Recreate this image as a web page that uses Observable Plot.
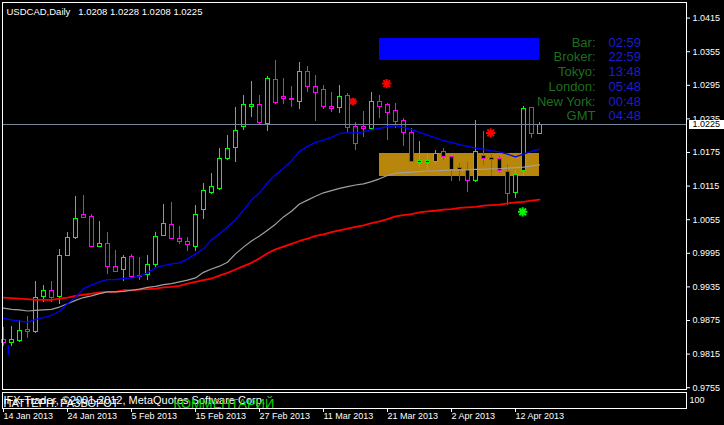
<!DOCTYPE html>
<html><head><meta charset="utf-8">
<script src="https://cdn.jsdelivr.net/npm/d3@7"></script>
<script src="https://cdn.jsdelivr.net/npm/@observablehq/plot@0.6"></script>
<style>
html,body{margin:0;padding:0;background:#000;}
#chart{width:724px;height:425px;background:#000;overflow:hidden;position:relative}
#chart svg{display:block;max-width:none}
#chart svg.sub{margin-top:-3px;position:relative}
</style></head><body><div id="chart"></div>
<script>
// ---------- data ----------
const symbol = "USDCAD,Daily";
const dateLabels = ["14 Jan 2013","24 Jan 2013","5 Feb 2013","15 Feb 2013","27 Feb 2013","11 Mar 2013","21 Mar 2013","2 Apr 2013","12 Apr 2013"];
const dateTickBars = [0,8,16,24,32,40,48,56,64];
const priceTicks = [1.0415,1.0355,1.0295,1.0235,1.0175,1.0115,1.0055,0.9995,0.9935,0.9875,0.9815,0.9755];

const open  = [0.9841,0.9835,0.9838,0.9858,0.9855,0.9917,0.9928,0.9917,0.9990,1.0023,
               1.0063,1.0060,1.0007,1.0011,0.9970,0.9965,0.9988,0.9955,0.9956,0.9975,
               1.0026,1.0045,1.0021,1.0015,1.0007,1.0072,1.0103,1.0110,1.0164,1.0183,
               1.0221,1.0257,1.0260,1.0226,1.0304,1.0274,1.0271,1.0266,1.0319,1.0292,
               1.0286,1.0256,1.0255,1.0276,1.0220,1.0220,1.0217,1.0265,1.0259,1.0249,
               1.0231,1.0209,1.0157,1.0157,1.0158,1.0176,1.0167,1.0148,1.0144,1.0125,
               1.0169,1.0166,1.0163,1.0140,1.0103,1.0142,1.0254,1.0208];
const high  = [0.9863,0.9865,0.9875,0.9883,0.9945,0.9938,0.9945,1.0002,1.0033,1.0097,
               1.0099,1.0064,1.0051,1.0033,1.0000,0.9991,0.9993,0.9988,0.9991,1.0033,
               1.0083,1.0085,1.0042,1.0023,1.0081,1.0119,1.0137,1.0183,1.0206,1.0255,
               1.0276,1.0301,1.0276,1.0311,1.0340,1.0308,1.0292,1.0335,1.0328,1.0313,
               1.0294,1.0283,1.0294,1.0281,1.0229,1.0249,1.0283,1.0276,1.0262,1.0262,
               1.0235,1.0218,1.0194,1.0172,1.0179,1.0182,1.0167,1.0155,1.0157,1.0233,
               1.0213,1.0172,1.0167,1.0154,1.0142,1.0258,1.0256,1.0228];
const low   = [0.9829,0.9829,0.9835,0.9842,0.9851,0.9907,0.9907,0.9904,0.9989,1.0019,
               1.0058,1.0005,1.0007,0.9957,0.9962,0.9945,0.9950,0.9947,0.9947,0.9969,
               1.0026,1.0020,1.0010,0.9998,0.9999,1.0056,1.0100,1.0107,1.0161,1.0157,
               1.0215,1.0238,1.0224,1.0213,1.0260,1.0260,1.0255,1.0251,1.0282,1.0231,
               1.0252,1.0246,1.0244,1.0210,1.0179,1.0201,1.0215,1.0235,1.0197,1.0217,
               1.0185,1.0158,1.0148,1.0142,1.0154,1.0160,1.0123,1.0123,1.0103,1.0121,
               1.0152,1.0132,1.0138,1.0081,1.0092,1.0132,1.0200,1.0208];
const close = [0.9835,0.9840,0.9857,0.9855,0.9915,0.9928,0.9916,0.9990,1.0022,1.0057,
               1.0058,1.0007,1.0012,0.9971,0.9962,0.9986,0.9953,0.9952,0.9975,1.0024,
               1.0047,1.0021,1.0016,1.0009,1.0063,1.0106,1.0113,1.0163,1.0182,1.0213,
               1.0260,1.0260,1.0228,1.0306,1.0264,1.0271,1.0268,1.0319,1.0292,1.0282,
               1.0257,1.0253,1.0274,1.0218,1.0191,1.0217,1.0265,1.0257,1.0246,1.0230,
               1.0210,1.0158,1.0159,1.0159,1.0173,1.0167,1.0144,1.0144,1.0125,1.0176,
               1.0164,1.0161,1.0142,1.0101,1.0134,1.0252,1.0208,1.0225];

// moving averages (one value per bar)
const maFast = [0.9879,0.9876,0.9874,0.9872,0.9877,0.9880,0.9884,0.9892,0.9905,0.9917,
                0.9932,0.9938,0.9944,0.9948,0.9948,0.9950,0.9951,0.9954,0.9960,0.9969,
                0.9973,0.9976,0.9978,0.9985,0.9994,1.0003,1.0019,1.0030,1.0042,1.0055,
                1.0072,1.0090,1.0103,1.0121,1.0135,1.0147,1.0160,1.0177,1.0186,1.0193,
                1.0197,1.0202,1.0209,1.0210,1.0210,1.0212,1.0216,1.0218,1.0221,1.0223,
                1.0220,1.0216,1.0211,1.0206,1.0201,1.0196,1.0193,1.0189,1.0186,1.0183,
                1.0181,1.0178,1.0176,1.0172,1.0167,1.0172,1.0177,1.0181];
const maMid  = [0.9897,0.9895,0.9894,0.9892,0.9893,0.9894,0.9895,0.9899,0.9905,0.9911,
                0.9916,0.9919,0.9923,0.9926,0.9926,0.9927,0.9929,0.9931,0.9934,0.9936,
                0.9939,0.9941,0.9944,0.9947,0.9951,0.9961,0.9967,0.9972,0.9979,0.9994,
                1.0006,1.0017,1.0026,1.0036,1.0047,1.0060,1.0070,1.0083,1.0090,1.0097,
                1.0103,1.0107,1.0111,1.0114,1.0117,1.0119,1.0123,1.0128,1.0134,1.0138,
                1.0139,1.0140,1.0141,1.0142,1.0142,1.0143,1.0144,1.0144,1.0144,1.0145,
                1.0145,1.0146,1.0146,1.0147,1.0148,1.0149,1.0151,1.0153];
const maSlow = [0.9916,0.9915,0.9914,0.9913,0.9912,0.9912,0.9912,0.9914,0.9916,0.9919,
                0.9921,0.9923,0.9925,0.9926,0.9926,0.9929,0.9929,0.9930,0.9931,0.9932,
                0.9934,0.9935,0.9937,0.9941,0.9944,0.9947,0.9950,0.9955,0.9960,0.9966,
                0.9972,0.9978,0.9986,0.9995,1.0002,1.0007,1.0012,1.0017,1.0021,1.0026,
                1.0029,1.0033,1.0036,1.0039,1.0042,1.0045,1.0049,1.0052,1.0056,1.0061,
                1.0063,1.0065,1.0068,1.0070,1.0071,1.0073,1.0074,1.0076,1.0077,1.0078,
                1.0080,1.0081,1.0082,1.0084,1.0086,1.0087,1.0089,1.0091];

// chart objects (bar index / price)
const zoneKinds = ["gold","blue"];
const zoneFrom  = [46.94, 46.94];
const zoneTo    = [67, 67];
const zoneLo    = [1.0133, 1.0340];
const zoneHi    = [1.0174, 1.0379];

const signalBar   = [43.7, 47.9, 60.9, 64.9];
const signalPrice = [1.0266, 1.0298, 1.0210, 1.0069];
const signalKind  = ["sellSmall","sell","sell","buy"];

const markBar = [0.6], markTop = [0.9830], markBottom = [0.9813];

const clockLabels = ["Bar:","Broker:","Tokyo:","London:","New York:","GMT"];
const clockTimes  = ["02:59","22:59","13:48","05:48","00:48","04:48"];

const footerWhite = "IFX-Trader, ©2001-2012, MetaQuotes Software Corp.";
const footerOverlay = "ПАТТЕРН: РАЗВОРОТ";
const footerGreen = "КОММЕНТАРИЙ";
const subLabel = "100";

// ---------- build ----------
const bars = open.map((o,i)=>({i, o, h:high[i], l:low[i], c:close[i], up: close[i] >= o}));
const upBars = bars.filter(d=>d.up), dnBars = bars.filter(d=>!d.up);
const zones = zoneKinds.map((k,j)=>({k, x1:zoneFrom[j], x2:zoneTo[j], lo:zoneLo[j], hi:zoneHi[j]}));
const signals = signalBar.map((b,j)=>({i:b, p:signalPrice[j], k:signalKind[j]}));
const marks2 = markBar.map((b,j)=>({i:b, t:markTop[j], b:markBottom[j]}));
const last = bars[bars.length-1];
const f4 = d3.format(".4f");
const FONT = "'Liberation Sans', Arial, sans-serif";
const UP = "#00ff00", DN = "#ff00ff";
const CRISP = {shapeRendering: "crispEdges"};

// 8 px per bar; 5600 px per price unit, bid line on an integer pixel row
const xOpt = {domain:[0, bars.length-1], range:[3, 3 + 8*(bars.length-1)]};
const yOpt = {domain:[0.9755, 1.0415], range:[124 + (last.c-0.9755)*5600, 124 - (1.0415-last.c)*5600]};
const xPix = d3.scaleLinear(xOpt.domain, xOpt.range);

const line = (arr) => arr.map((v,i)=>({i, v}));
const T = {lineAnchor:"middle"};

const main = Plot.plot({
  width: 724, height: 394,
  marginLeft: 2, marginRight: 38, marginTop: 2, marginBottom: 5,
  style: {background:"#000", color:"#fff", fontFamily: FONT, fontSize:"9px"},
  x: {...xOpt, axis: null},
  y: {...yOpt, axis: null},
  marks: [
    Plot.rect(zones.filter(z=>z.k==="gold"), {x1:"x1", x2:"x2", y1:"lo", y2:"hi", fill:"#b8860b", ...CRISP}),
    Plot.rect(zones.filter(z=>z.k==="blue"), {x1:"x1", x2:"x2", y1:"lo", y2:"hi", fill:"#0000ff", ...CRISP}),
    // wicks
    Plot.ruleX(upBars, {x:"i", y1:"l", y2:"h", stroke: UP, strokeWidth:1, ...CRISP}),
    Plot.ruleX(dnBars, {x:"i", y1:"l", y2:"h", stroke: DN, strokeWidth:1, ...CRISP}),
    // bodies
    Plot.rect(upBars, {x1:d=>d.i-0.25, x2:d=>d.i+0.25, y1:"o", y2:"c", fill:"#000", stroke: UP, strokeWidth:1, ...CRISP}),
    Plot.rect(dnBars, {x1:d=>d.i-0.25, x2:d=>d.i+0.25, y1:"o", y2:"c", fill:"#000", stroke: DN, strokeWidth:1, ...CRISP}),
    Plot.ruleX(marks2, {x:"i", y1:"b", y2:"t", stroke:"#0000ff", strokeWidth:1.5}),
    // moving averages
    Plot.line(line(maSlow), {x:"i", y:"v", stroke:"#ff0000", strokeWidth:1.8}),
    Plot.line(line(maMid),  {x:"i", y:"v", stroke:"#a0a0a0", strokeWidth:1.2}),
    Plot.line(line(maFast), {x:"i", y:"v", stroke:"#0000ff", strokeWidth:1.3}),
    // bid line
    Plot.ruleY([last.c], {stroke:"#778899", strokeWidth:1, ...CRISP}),
    // signals
    Plot.dot(signals, {x:"i", y:"p", symbol:"plus", r:d=>d.k==="sellSmall"?3.2:4.6, stroke:d=>d.k==="buy"?"#00ff00":"#ff0000", strokeWidth:2}),
    Plot.dot(signals, {x:"i", y:"p", symbol:"times", r:d=>d.k==="sellSmall"?3.2:4.6, stroke:d=>d.k==="buy"?"#00ff00":"#ff0000", strokeWidth:2}),
    // price axis
    Plot.axisY(priceTicks, {anchor:"right", tickSize:3, tickPadding:3, tickFormat:f4, fontSize:9, fill:"#fff", stroke:"#fff"}),
    Plot.frame({stroke:"#fff", ...CRISP}),
    // bid price label on the axis
    Plot.ruleY([last.c], {x1: xPix.invert(689), x2: xPix.invert(724), stroke:"#fff", strokeWidth:9, ...CRISP}),
    Plot.text([last.c], {y: d=>d, frameAnchor:"right", dx:6, textAnchor:"start", text: d=>f4(d), fill:"#000", fontSize:9}),
    // title
    Plot.text([`${symbol}\u00a0\u00a0\u00a0${f4(last.o)} ${f4(last.h)} ${f4(last.l)} ${f4(last.c)}`],
      {frameAnchor:"top-left", dx:4, dy:9, textAnchor:"start", fill:"#fff", fontSize:9.5, ...T}),
    // clock panel
    ...clockLabels.map((t,k)=>Plot.text([t], {frameAnchor:"top-left", dx:593, dy:40 + k*14.75, textAnchor:"end", fill:"#1e6e1e", fontSize:13, ...T})),
    ...clockTimes.map((t,k)=>Plot.text([t], {frameAnchor:"top-left", dx:606, dy:40 + k*14.75, textAnchor:"start", fill:"#1c1cd4", fontSize:13, ...T}))
  ]
});

const sub = Plot.plot({
  width: 724, height: 34,
  marginLeft: 2, marginRight: 38, marginTop: 1, marginBottom: 17,
  style: {background:"none", color:"#fff", fontFamily: FONT, fontSize:"9px"},
  x: {...xOpt, axis: null},
  y: {domain:[0,100], axis: null},
  marks: [
    Plot.frame({stroke:"#fff", ...CRISP}),
    Plot.axisX(dateTickBars, {anchor:"bottom", tickSize:4, tickPadding:0, textAnchor:"start", dx:0,
      tickFormat: d => dateLabels[dateTickBars.indexOf(d)], fontSize:9, fill:"#fff", stroke:"#fff"}),
    Plot.text([footerWhite], {frameAnchor:"top-left", dx:1, dy:8, textAnchor:"start", fill:"#fff", fontSize:11, ...T}),
    Plot.text([footerOverlay], {frameAnchor:"top-left", dx:1, dy:10.5, textAnchor:"start", fill:"#fff", fontSize:11, ...T}),
    Plot.text([footerGreen], {frameAnchor:"top-left", dx:171, dy:11, textAnchor:"start", fill:"#00dd00", fontSize:13, ...T}),
    Plot.text([subLabel], {frameAnchor:"top-right", dx:3, dy:7.5, textAnchor:"start", fill:"#fff", fontSize:9, ...T})
  ]
});
sub.classList.add("sub");

const root = document.getElementById("chart");
root.appendChild(main);
root.appendChild(sub);
</script></body></html>
